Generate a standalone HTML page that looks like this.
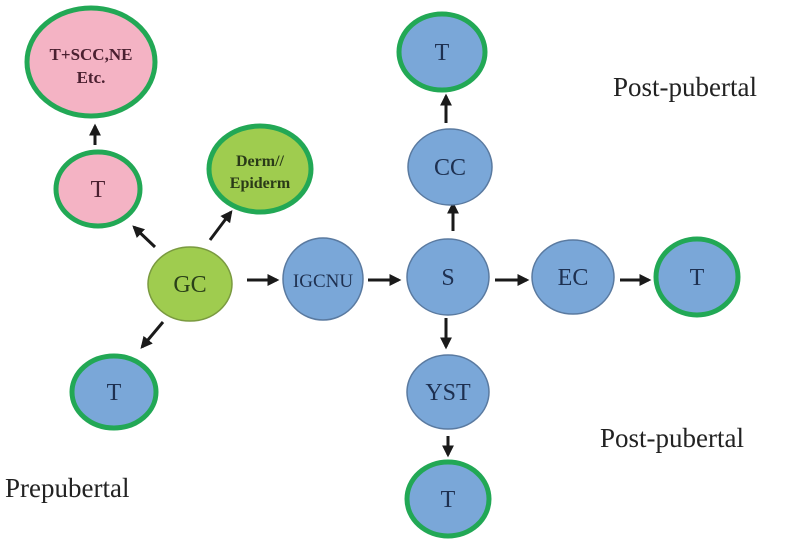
<!DOCTYPE html>
<html><head><meta charset="utf-8"><style>
html,body{margin:0;padding:0;background:#fff;}
svg{display:block;}
svg text{font-family:"Liberation Serif","DejaVu Serif",serif;}
</style></head><body>
<svg width="795" height="551" viewBox="0 0 795 551" xmlns="http://www.w3.org/2000/svg" font-family="Liberation Serif, DejaVu Serif, serif">
<defs>
<marker id="a" viewBox="0 0 10 10" refX="8" refY="5" markerWidth="4" markerHeight="4" orient="auto"><path d="M0,0L10,5L0,10z" fill="#1a1a1a"/></marker>
</defs>
<g stroke="#1a1a1a" stroke-width="3" marker-end="url(#a)">
<line x1="95" y1="145" x2="95" y2="126"/>
<line x1="155" y1="247" x2="134" y2="227"/>
<line x1="210" y1="240" x2="231" y2="212"/>
<line x1="163" y1="322" x2="142" y2="347"/>
<line x1="247" y1="280" x2="277" y2="280"/>
<line x1="368" y1="280" x2="399" y2="280"/>
<line x1="495" y1="280" x2="527" y2="280"/>
<line x1="620" y1="280" x2="649" y2="280"/>
<line x1="446" y1="123" x2="446" y2="96"/>
<line x1="453" y1="231" x2="453" y2="204"/>
<line x1="446" y1="318" x2="446" y2="347"/>
<line x1="448" y1="436" x2="448" y2="455"/>
</g>
<g stroke-width="5" stroke="#22a855">
<ellipse cx="91" cy="62" rx="64" ry="54" fill="#f4b3c4"/>
<ellipse cx="98" cy="189" rx="42" ry="37" fill="#f4b3c4"/>
<ellipse cx="260" cy="169" rx="51" ry="43" fill="#9fcc4f"/>
<ellipse cx="442" cy="52" rx="43" ry="38" fill="#7aa7d8"/>
<ellipse cx="697" cy="277" rx="41" ry="38" fill="#7aa7d8"/>
<ellipse cx="448" cy="499" rx="41" ry="37" fill="#7aa7d8"/>
<ellipse cx="114" cy="392" rx="42" ry="36" fill="#7aa7d8"/>
</g>
<g stroke-width="1.5" stroke="#5a7aa0">
<ellipse cx="190" cy="284" rx="42" ry="37" fill="#9fcc4f" stroke="#7a9a40"/>
<ellipse cx="323" cy="279" rx="40" ry="41" fill="#7aa7d8"/>
<ellipse cx="448" cy="277" rx="41" ry="38" fill="#7aa7d8"/>
<ellipse cx="573" cy="277" rx="41" ry="37" fill="#7aa7d8"/>
<ellipse cx="448" cy="392" rx="41" ry="37" fill="#7aa7d8"/>
<ellipse cx="450" cy="167" rx="42" ry="38" fill="#7aa7d8"/>
</g>
<g text-anchor="middle" fill="#1e3050" font-size="24">
<text x="91" y="60" font-size="17" font-weight="bold" fill="#4a2030">T+SCC,NE</text>
<text x="91" y="83" font-size="17" font-weight="bold" fill="#4a2030">Etc.</text>
<text x="98" y="197" fill="#4a2030">T</text>
<text x="260" y="166" font-size="16" font-weight="bold" fill="#2a3a18">Derm//</text>
<text x="260" y="188" font-size="16" font-weight="bold" fill="#2a3a18">Epiderm</text>
<text x="190" y="292" fill="#2a4018">GC</text>
<text x="323" y="287" font-size="19">IGCNU</text>
<text x="448" y="285">S</text>
<text x="573" y="285">EC</text>
<text x="697" y="285">T</text>
<text x="448" y="400">YST</text>
<text x="448" y="507">T</text>
<text x="114" y="400">T</text>
<text x="442" y="60">T</text>
<text x="450" y="175">CC</text>
</g>
<g fill="#222" font-size="27">
<text x="613" y="96">Post-pubertal</text>
<text x="600" y="447">Post-pubertal</text>
<text x="5" y="497">Prepubertal</text>
</g>
</svg>
</body></html>
